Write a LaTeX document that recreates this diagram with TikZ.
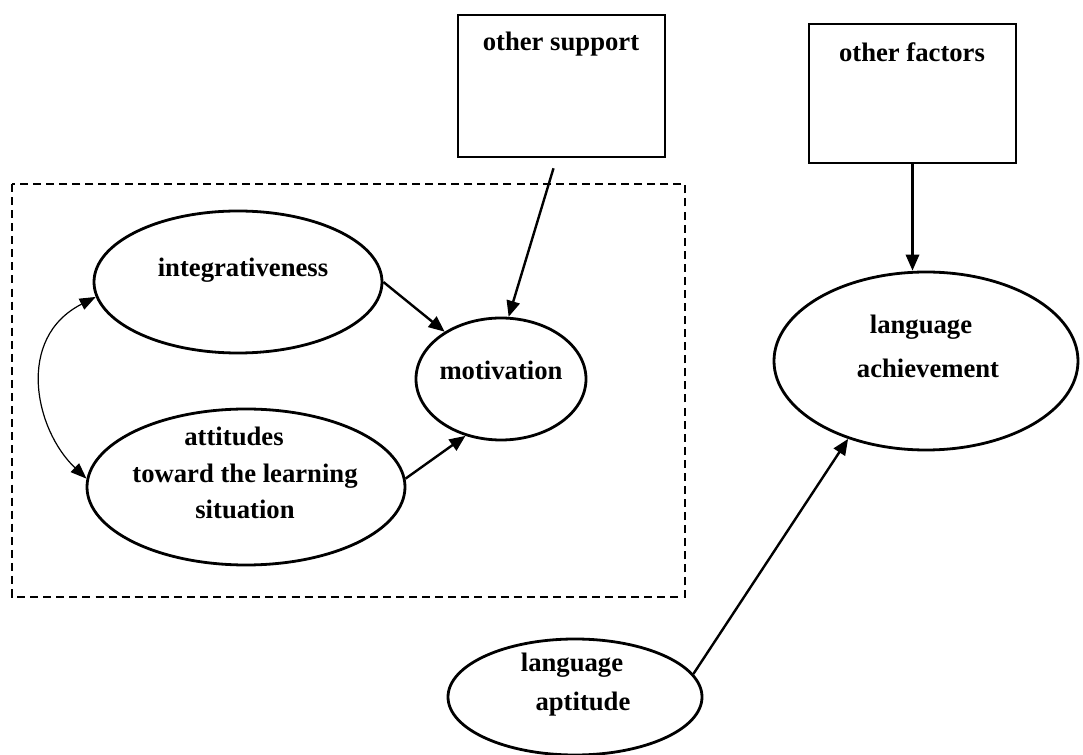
\documentclass[tikz,border=0pt]{standalone}
\usepackage{fontspec}
\setmainfont{Liberation Serif}
\usetikzlibrary{arrows.meta,shapes.geometric}
\tikzset{
  oval/.style={draw, ellipse, line width=2.1pt, inner sep=0pt},
  srcbox/.style={draw, rectangle, line width=1.9pt, inner sep=0pt},
  lbl/.style={inner sep=0pt, font=\fontsize{20}{24}\selectfont\bfseries},
  link/.style={line width=1.8pt, -{Triangle[length=12pt,width=10pt]}},
  corr/.style={line width=0.9pt, {Triangle[length=12pt,width=9pt]}-{Triangle[length=12pt,width=9pt]}},
  frame/.style={line width=1.7pt, dash pattern=on 6pt off 3.8pt}
}
\begin{document}
\begin{tikzpicture}[x=0.75pt,y=-0.75pt]
\useasboundingbox (0,0) rectangle (1083,755);

% dashed group around the motivation sub-model
\draw[frame] (12,184) rectangle (685,597);

% ovals
\node[oval, minimum width=216pt, minimum height=106.5pt] (integ) at (238,282) {};
\node[oval, minimum width=238.5pt, minimum height=117pt] (attit) at (246,487) {};
\node[oval, minimum width=127.5pt, minimum height=91.5pt] (motiv) at (501,379) {};
\node[oval, minimum width=228pt, minimum height=133.5pt] (achiev) at (926,361) {};
\node[oval, minimum width=190.5pt, minimum height=87pt] (aptit) at (575,697) {};

% boxes
\node[srcbox, minimum width=155.25pt, minimum height=106.5pt] (supp) at (561.5,86) {};
\node[srcbox, minimum width=155.25pt, minimum height=104.25pt] (fact) at (912.5,93.5) {};

% labels
\node[lbl] (tInteg) at (243,270) {integrativeness};
\node[lbl] (tAtt1) at (234,436) {attitudes};
\node[lbl] (tAtt2) at (245,476) {toward the learning};
\node[lbl] (tAtt3) at (245,509) {situation};
\node[lbl] (tMotiv) at (501,370) {motivation};
\node[lbl] (tAch1) at (921,327) {language};
\node[lbl] (tAch2) at (928,368) {achievement};
\node[lbl] (tApt1) at (572,665) {language};
\node[lbl] (tApt2) at (583,704) {aptitude};
\node[lbl] (tSupp) at (561,44) {other support};
\node[lbl] (tFact) at (912,52) {other factors};

% connectors
\draw[link] (integ.east) -- (motiv.140);
\draw[link] (attit.3) -- (motiv.238);
\draw[link] ([shift={(-8,10)}]supp.south) -- (motiv.83);
\draw[link] (fact.south) -- (achiev.north -| fact.south);
\draw[link] (aptit.11) -- (achiev.225);
\draw[corr] (integ.186) .. controls (15,338) and (35,430) .. (attit.177);
\end{tikzpicture}
\end{document}
